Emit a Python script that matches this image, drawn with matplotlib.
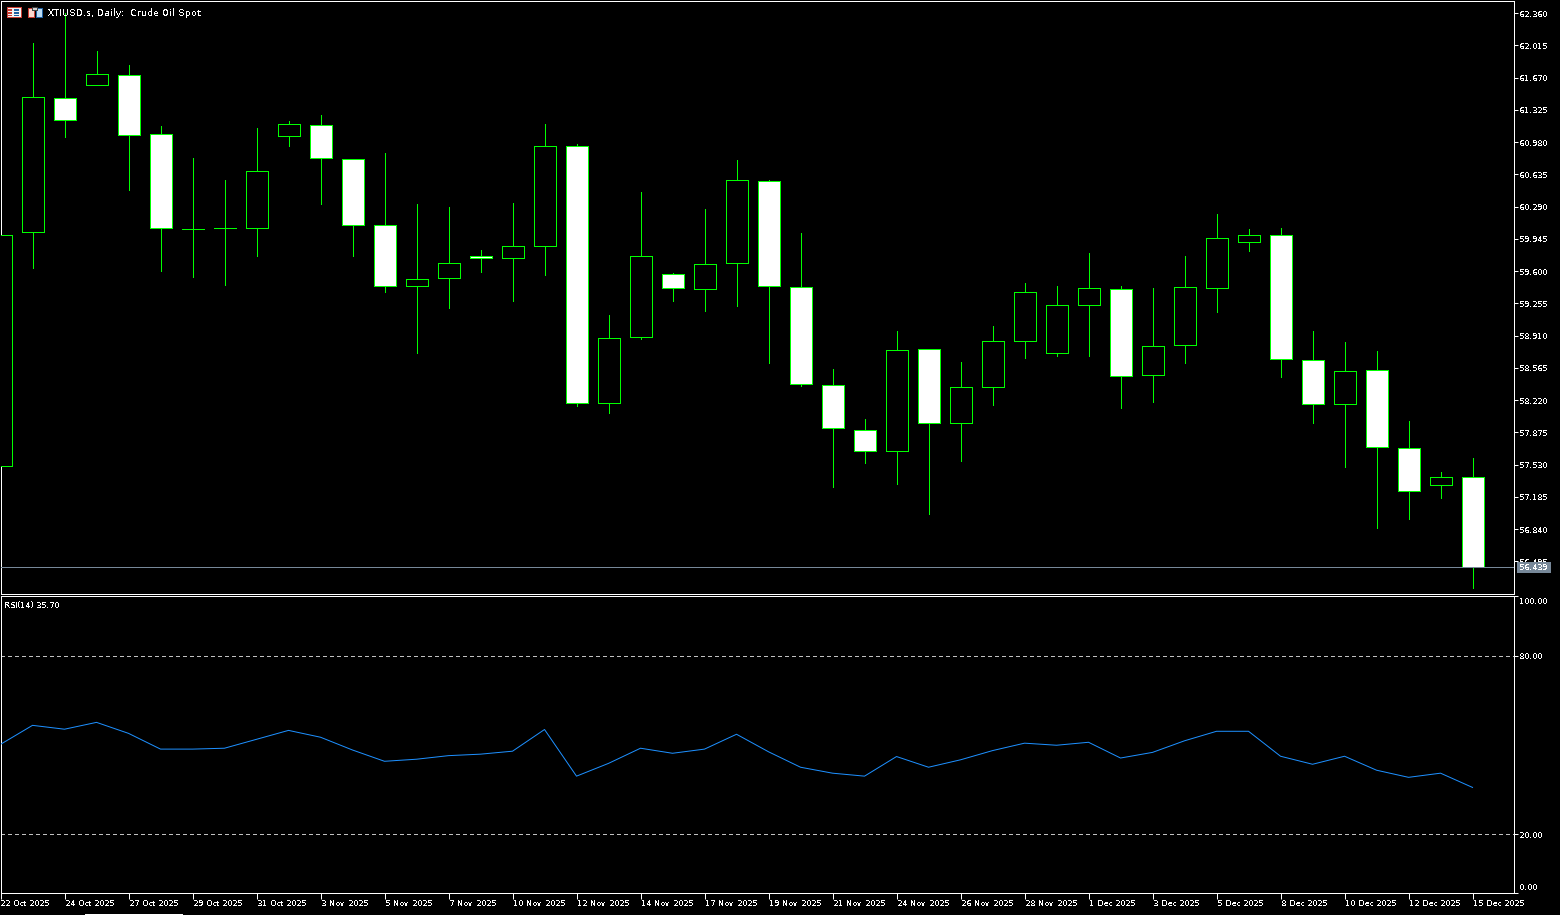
import matplotlib
matplotlib.use("Agg")
import matplotlib.pyplot as plt
from matplotlib.patches import Rectangle
from matplotlib.transforms import ScaledTranslation

# daily XTIUSD.s bars
opens = [57.517, 60.016, 61.449, 61.592, 61.695, 61.065, 60.051, 60.064, 60.065, 61.047, 61.161, 60.798,
         60.093, 59.435, 59.521, 59.762, 59.745, 59.873, 60.937, 58.186, 58.891, 59.570, 59.403, 59.691,
         60.563, 59.431, 58.385, 57.904, 57.673, 58.769, 57.972, 58.357, 58.848, 58.720, 59.232, 59.410,
         58.485, 58.805, 59.424, 59.916, 59.987, 58.652, 58.175, 58.545, 57.712, 57.310, 57.392]
highs = [59.987, 62.040, 62.360, 61.954, 61.805, 61.154, 60.812, 60.577, 61.132, 61.207, 61.271, 60.798,
         60.862, 60.321, 60.289, 59.830, 60.331, 61.175, 60.961, 59.125, 60.449, 59.584, 60.267, 60.790,
         60.577, 60.011, 58.548, 58.015, 58.954, 58.769, 58.623, 59.007, 59.467, 59.445, 59.798, 59.435,
         59.424, 59.766, 60.214, 60.054, 60.064, 58.954, 58.837, 58.740, 57.993, 57.449, 57.598]
lows = [57.517, 59.630, 61.039, 61.592, 60.470, 59.598, 59.534, 59.448, 59.758, 60.933, 60.313, 59.758,
        59.374, 58.722, 59.200, 59.595, 59.285, 59.563, 58.153, 58.079, 58.869, 59.285, 59.178, 59.221,
        58.612, 58.367, 57.288, 57.545, 57.321, 57.000, 57.566, 58.164, 58.666, 58.687, 58.687, 58.132,
        58.196, 58.612, 59.157, 59.819, 58.463, 57.972, 57.502, 56.851, 56.947, 57.171, 56.210]
closes = [59.987, 61.460, 61.218, 61.706, 61.058, 60.065, 60.051, 60.056, 60.670, 61.172, 60.812, 60.097,
          59.439, 59.517, 59.688, 59.745, 59.869, 60.937, 58.186, 58.887, 59.762, 59.414, 59.677, 60.574,
          59.435, 58.389, 57.919, 57.673, 58.759, 57.972, 58.364, 58.855, 59.378, 59.239, 59.421, 58.474,
          58.801, 59.431, 59.955, 59.987, 58.656, 58.175, 58.534, 57.716, 57.246, 57.392, 56.439]
rsi = [50.2, 56.6, 55.3, 57.6, 53.9, 48.6, 48.6, 48.9, 51.9, 54.9, 52.6, 48.3,
       44.5, 45.2, 46.4, 46.9, 47.9, 55.2, 39.5, 43.8, 48.9, 47.2, 48.6, 53.6,
       47.7, 42.5, 40.5, 39.5, 46.1, 42.5, 45.0, 48.1, 50.6, 49.9, 50.9, 45.6,
       47.5, 51.4, 54.6, 54.6, 46.2, 43.5, 46.2, 41.5, 39.1, 40.5, 35.7]

price_ticks = [62.360, 62.015, 61.670, 61.325, 60.980, 60.635, 60.290, 59.945, 59.600,
               59.255, 58.910, 58.565, 58.220, 57.875, 57.530, 57.185, 56.840, 56.495]
rsi_ticks = [100, 80, 20, 0]
date_labels = ["22 Oct 2025", "24 Oct 2025", "27 Oct 2025", "29 Oct 2025", "31 Oct 2025", "3 Nov 2025",
               "5 Nov 2025", "7 Nov 2025", "10 Nov 2025", "12 Nov 2025", "14 Nov 2025", "17 Nov 2025",
               "19 Nov 2025", "21 Nov 2025", "24 Nov 2025", "26 Nov 2025", "28 Nov 2025", "1 Dec 2025",
               "3 Dec 2025", "5 Dec 2025", "8 Dec 2025", "10 Dec 2025", "12 Dec 2025", "15 Dec 2025"]
last_price = 56.439

W, H = 1560, 915
GREEN = "#00ff00"
FG = "white"
PX = 0.72  # one pixel in points at dpi 100
RSI_BOTTOM = 0.34

plt.rcParams["font.family"] = ["DejaVu Sans"]
plt.rcParams["font.size"] = 6
plt.rcParams["text.antialiased"] = False
plt.rcParams["text.hinting"] = "native"
plt.rcParams["text.hinting_factor"] = 1


def px_box(left, top, right, bottom):
    return [left / W, 1 - bottom / H, (right - left) / W, (bottom - top) / H]


def px_rect(x, y, w, h, fc, ec="none"):
    fig.add_artist(Rectangle((x / W, 1 - (y + h) / H), w / W, h / H, transform=fig.transFigure,
                             facecolor=fc, edgecolor=ec, linewidth=PX, antialiased=False))


def style_axes(ax):
    ax.set_facecolor("black")
    for s in ax.spines.values():
        s.set_color(FG)
        s.set_linewidth(PX)
    ax.yaxis.tick_right()
    ax.tick_params(axis="y", colors=FG, length=3, width=PX, pad=1.0, labelsize=6)
    ax.tick_params(axis="x", colors=FG, length=4, width=PX, pad=0.7, labelsize=6)
    ax.set_xlim(0, 47.28)


fig = plt.figure(figsize=(W / 100, H / 100), dpi=100, facecolor="black")
ax = fig.add_axes(px_box(0.5, 0.5, 1513.5, 593.5))
ax2 = fig.add_axes(px_box(0.5, 595.5, 1513.5, 892.5))
style_axes(ax)
style_axes(ax2)

xs = list(range(len(opens)))

# wicks then bodies, white body = falling day, black body = rising day
ax.vlines(xs, lows, highs, color=GREEN, linewidth=PX, antialiased=False, zorder=2)
bottoms = [min(o, c) for o, c in zip(opens, closes)]
heights = [abs(c - o) for o, c in zip(opens, closes)]
fills = ["white" if c < o else "black" for o, c in zip(opens, closes)]
ax.bar(xs, heights, bottom=bottoms, width=0.6875, color=fills, edgecolor=GREEN, linewidth=PX,
       antialiased=False, zorder=3)

ax.axhline(last_price, color="#778899", linewidth=PX, antialiased=False, zorder=4)

ax.set_ylim(56.151, 62.494)
ax.set_yticks(price_ticks)
ax.set_yticklabels([f"{t:.3f}" for t in price_ticks])
ax.set_xticks([])

ax2.plot(xs, rsi, color="#1e90ff", linewidth=PX, zorder=3)
for lvl in (80, 20):
    ax2.axhline(lvl, color="#c0c0c0", linewidth=PX, dashes=(3, 3), antialiased=False, zorder=1)
ax2.set_ylim(RSI_BOTTOM, 100.3)
ax2.set_yticks([max(t, RSI_BOTTOM) for t in rsi_ticks])
ax2.set_yticklabels([f"{t:.2f}" for t in rsi_ticks])
rsi_labels = ax2.get_yticklabels()
rsi_labels[0].set_va("top")
rsi_labels[0].set_transform(rsi_labels[0].get_transform() + ScaledTranslation(0, -1 / 100, fig.dpi_scale_trans))
rsi_labels[-1].set_va("bottom")
ax2.set_xticks(xs[::2])
ax2.set_xticklabels(date_labels, ha="left")

# price box on the axis, drawn over the 56.495 label
px_rect(1517, 562, 34, 10.7, "#778899")
fig.text(1519.5 / W, 1 - 567.3 / H, f"{last_price:.3f}", color=FG, fontsize=6, va="center", ha="left", zorder=10)

fig.text(47.5 / W, 1 - 13 / H, "XTIUSD.s, Daily:  Crude Oil Spot", color=FG, fontsize=6.2, va="center", ha="left", zorder=10)
fig.text(4 / W, 1 - 605.5 / H, "RSI(14) 35.70", color=FG, fontsize=6, va="center", ha="left", zorder=10)

# the two little toolbar icons next to the title
px_rect(6.5, 7.5, 14, 9.5, "#f4f4f4", "#c83c32")
px_rect(7.5, 9.5, 5, 1, "#c83c32")
px_rect(7.5, 12.5, 5, 1, "#c83c32")
px_rect(7.5, 15, 5, 1, "#c83c32")
px_rect(14, 9.5, 5, 1, "#1e5fa0")
px_rect(14, 12.5, 5, 1, "#1e5fa0")
px_rect(14, 15, 5, 1, "#1e5fa0")
px_rect(27.5, 8, 6, 9, "#fbd9d0", "#c83c32")
px_rect(35.5, 8, 6, 9, "#bcdcf4", "#1e5fa0")
px_rect(32, 7, 5, 3, "#d0d0d0", "#404040")

# scrollbar stub along the bottom edge
px_rect(85, 914, 98, 1, "white")

fig.savefig("out.png", dpi=100, facecolor="black")
